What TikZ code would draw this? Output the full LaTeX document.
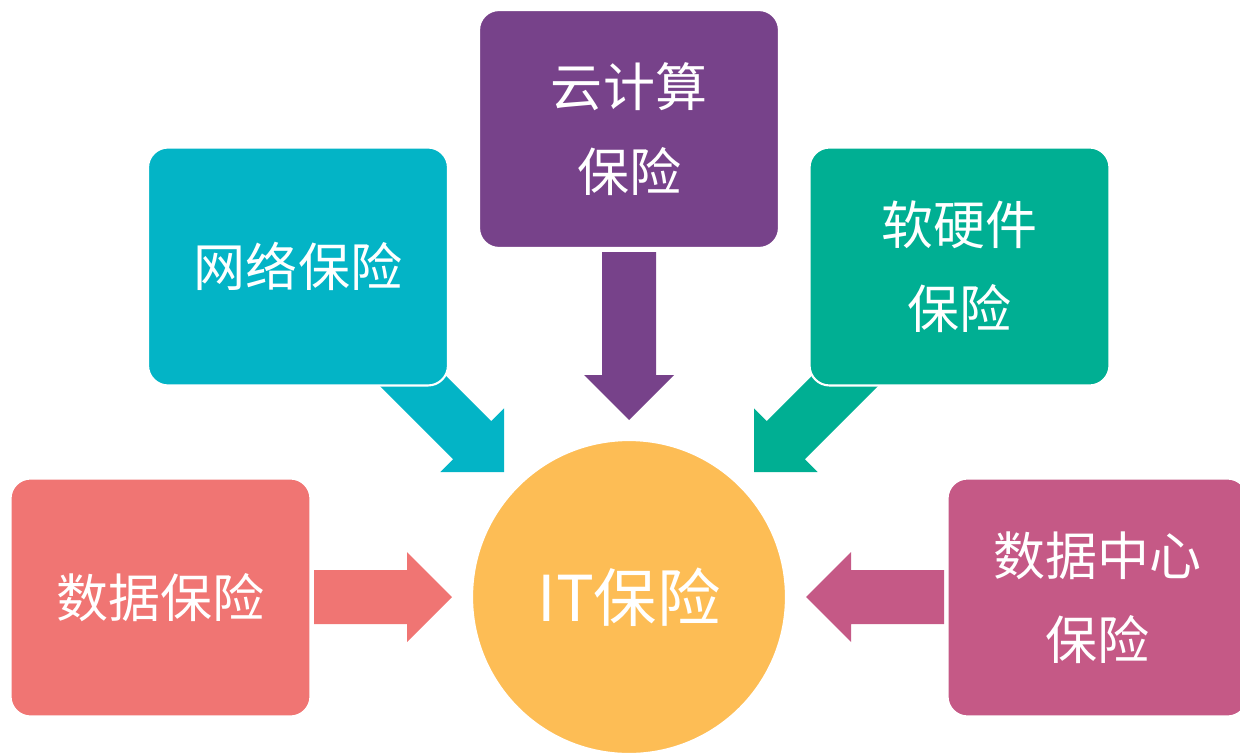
\documentclass[tikz,border=0pt]{standalone}
\usepackage{fontspec}
\setmainfont{Noto Sans CJK SC}

\definecolor{netcyan}{HTML}{03B4C6}
\definecolor{cloudpurple}{HTML}{77428A}
\definecolor{hwgreen}{HTML}{00AF93}
\definecolor{datared}{HTML}{F07573}
\definecolor{dcpink}{HTML}{C55986}
\definecolor{ityellow}{HTML}{FDBD55}

% block arrow: colour, tail, angle, length
\newcommand{\bigarrow}[4]{%
    \fill[#1, shift={#2}, rotate=#3] (0,27) -- (#4-45,27) -- (#4-45,45) -- (#4,0)
        -- (#4-45,-45) -- (#4-45,-27) -- (0,-27) -- cycle;
}

\begin{document}
\begin{tikzpicture}[x=0.02cm, y=-0.02cm,
        box/.style={rectangle, rounded corners=0.4cm, draw=white, line width=1.2pt,
            text=white, align=center, minimum width=6cm, minimum height=4.76cm,
            font=\fontsize{29.6}{48}\selectfont}]
        \useasboundingbox (0, 0) rectangle (1240, 754);
        \clip (0, 0) rectangle (1240, 754);

        \bigarrow{datared}{(314, 597)}{0}{138}
        \bigarrow{dcpink}{(944, 597)}{180}{138}
        \bigarrow{cloudpurple}{(629, 252)}{-90}{168}
        \bigarrow{netcyan}{(394.4, 362.4)}{-45}{155}
        \bigarrow{hwgreen}{(863.6, 362.4)}{-135}{155}

        \node[box, fill=netcyan] (net) at (298, 266.5) {网络保险};
        \node[box, fill=cloudpurple] (cloud) at (629, 129) {云计算\\保险};
        \node[box, fill=hwgreen] (hw) at (959.5, 266.5) {软硬件\\保险};
        \node[box, fill=datared] (data) at (160.5, 597.5) {数据保险};
        \node[box, fill=dcpink] (dc) at (1097.5, 597.5) {数据中心\\保险};

        \node[circle, fill=ityellow, draw=white, line width=1.2pt, minimum size=6.28cm,
            text=white, font=\fontsize{36}{42}\selectfont] (it) at (629, 597) {IT保险};
    \end{tikzpicture}
\end{document}
